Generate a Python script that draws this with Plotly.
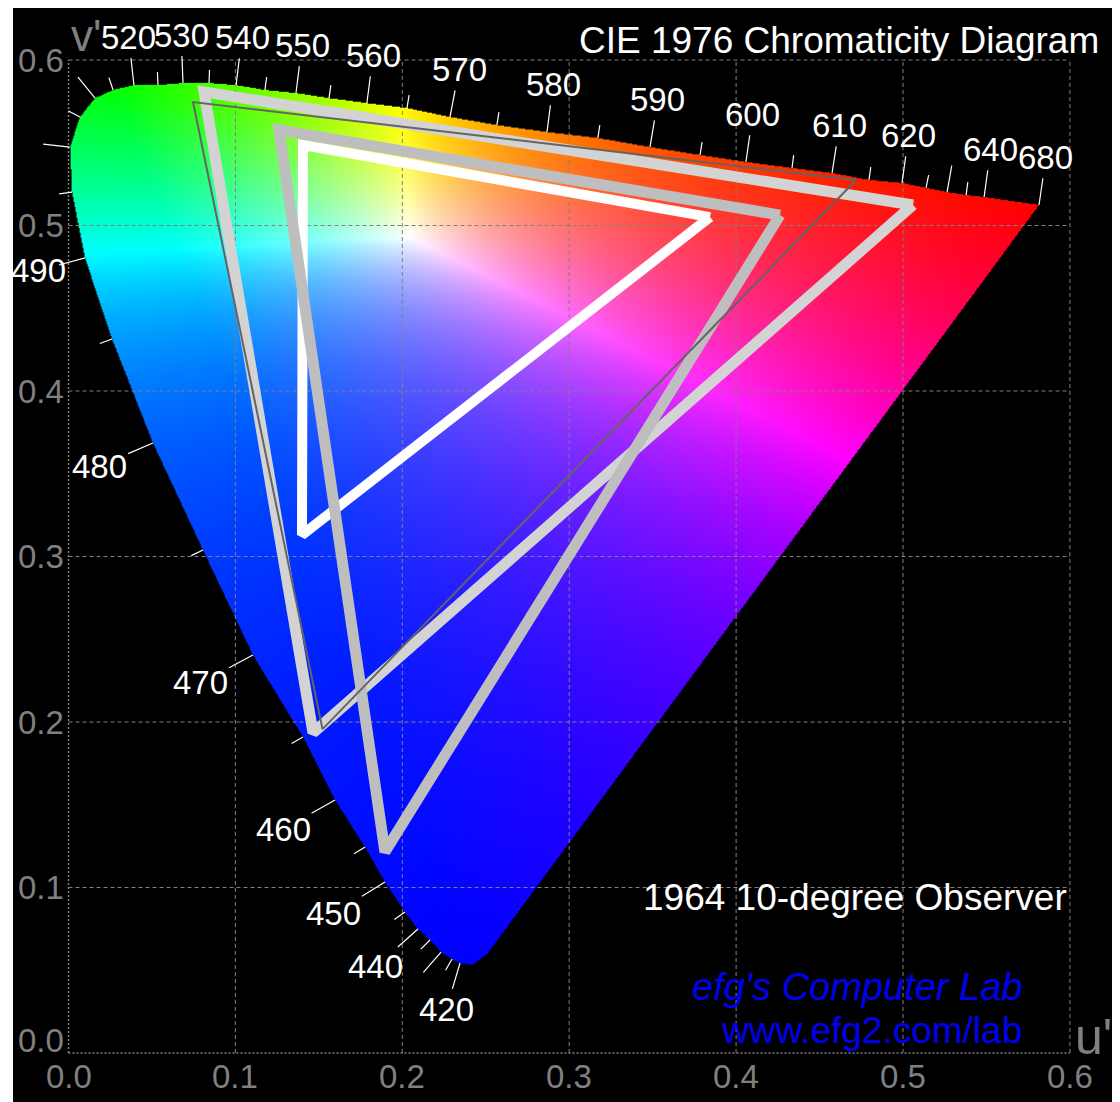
import numpy as np
import plotly.graph_objects as go
import zlib, struct, base64

# ---------------- data (CIE 1976 u', v') ----------------
wavelength_nm = [400, 410, 420, 425, 430, 435, 440, 445, 450, 455, 460, 465, 470, 475, 480, 485,
                 490, 495, 500, 505, 510, 515, 520, 525, 530, 535, 540, 545, 550, 555, 560, 565,
                 570, 575, 580, 585, 590, 595, 600, 605, 610, 615, 620, 625, 630, 635, 640, 680]
locus_u = [0.2508, 0.2418, 0.2346, 0.2298, 0.2232, 0.2166, 0.2094, 0.2016, 0.1896, 0.1777, 0.1597,
           0.1405, 0.1105, 0.0806, 0.0506, 0.0261, 0.0099, 0.0021, 0.0009, 0.0069, 0.0159, 0.0267,
           0.0392, 0.0536, 0.0686, 0.0842, 0.1004, 0.1177, 0.1363, 0.1561, 0.1788, 0.2028, 0.2286,
           0.2567, 0.2867, 0.3172, 0.3484, 0.3784, 0.4059, 0.4335, 0.4575, 0.4796, 0.4994, 0.5138,
           0.5264, 0.5378, 0.5486, 0.5815]
locus_v = [0.0598, 0.0532, 0.0544, 0.0568, 0.0610, 0.0683, 0.0749, 0.0852, 0.1033, 0.1245, 0.1529,
           0.1909, 0.2405, 0.3039, 0.3686, 0.4314, 0.4804, 0.5202, 0.5474, 0.5656, 0.5770, 0.5819,
           0.5849, 0.5849, 0.5861, 0.5861, 0.5849, 0.5819, 0.5801, 0.5770, 0.5740, 0.5710, 0.5656,
           0.5607, 0.5565, 0.5529, 0.5474, 0.5426, 0.5384, 0.5347, 0.5317, 0.5275, 0.5257, 0.5227,
           0.5202, 0.5184, 0.5172, 0.5124]
labeled_nm = [420, 440, 450, 460, 470, 480, 490, 520, 530, 540, 550, 560, 570, 580, 590,
              600, 610, 620, 640, 680]

# gamut triangles: (red, green, blue) vertices
white_tri_u = [0.3844, 0.1405, 0.1399]
white_tri_v = [0.5051, 0.5486, 0.3130]
silver_tri_u = [0.4263, 0.1261, 0.1896]
silver_tri_v = [0.5063, 0.5577, 0.1215]
light_tri_u = [0.5060, 0.0812, 0.1465]
light_tri_v = [0.5124, 0.5807, 0.1934]
ntsc_tri_u = [0.4719, 0.0746, 0.1522]
ntsc_tri_v = [0.5275, 0.5746, 0.1957]

axis_ticks = [0.0, 0.1, 0.2, 0.3, 0.4, 0.5, 0.6]
axis_tick_labels = ["0.0", "0.1", "0.2", "0.3", "0.4", "0.5", "0.6"]

# ---------------- geometry of the page (page body has an 8px margin) ----------------
OFF = 8
W_FIG, H_FIG = 1120 - OFF, 1102 - OFF
SX, SY = 1669.0, 1655.0                 # px per unit
X0PX, Y0PX = 68.5 - OFF, 1053.0 - OFF   # figure pixel of u'=0 / v'=0
xr = [-X0PX / SX, (W_FIG - X0PX) / SX]
yr = [(Y0PX - H_FIG) / SY, Y0PX / SY]

def px(xs):   # screen x -> paper
    return (xs - OFF) / W_FIG

def py(ys):   # screen y -> paper
    return 1 - (ys - OFF) / H_FIG

NARROW = "Liberation Sans Narrow, Arial Narrow, Liberation Sans, Arial, sans-serif"
REG = "Liberation Sans, Arial, sans-serif"
GRAY = "#808080"

# ---------------- colour fill of the locus ----------------
def uv_to_XYZ(u, v):
    u = np.asarray(u, float); v = np.asarray(v, float)
    d = 6 * u - 16 * v + 12
    x = 9 * u / d; y = 4 * v / d
    return np.stack([x / y, np.ones_like(x), (1 - x - y) / y])

prim_u, prim_v = [0.5815, 0.025, 0.236], [0.5124, 0.585, 0.054]
P = uv_to_XYZ(prim_u, prim_v)                 # columns = primaries
Wxyz = uv_to_XYZ([0.205], [0.493])[:, 0]
S = np.linalg.solve(P, Wxyz)
M = P * S
Minv = np.linalg.inv(M)

NW, NH = 1000, 950
u_lo, u_hi, v_lo, v_hi = 0.0, 0.6, 0.03, 0.6
uc = u_lo + (np.arange(NW) + 0.5) * (u_hi - u_lo) / NW
vc = v_hi - (np.arange(NH) + 0.5) * (v_hi - v_lo) / NH
U, V = np.meshgrid(uc, vc)

def inside(U, V, pu, pv):
    res = np.zeros(U.shape, bool)
    n = len(pu); j = n - 1
    for i in range(n):
        ui, vi, uj, vj = pu[i], pv[i], pu[j], pv[j]
        cond = (vi > V) != (vj > V)
        den = (vj - vi) if vj != vi else 1e-12
        xint = (uj - ui) * (V - vi) / den + ui
        res ^= cond & (U < xint)
        j = i
    return res

mask = inside(U, V, locus_u, locus_v)
XYZ = uv_to_XYZ(U.ravel(), V.ravel())
rgb = (Minv @ XYZ).T.reshape(NH, NW, 3)
rgb = np.clip(rgb, 0, None)
mx = rgb.max(axis=2, keepdims=True)
mx[mx == 0] = 1
rgb = rgb / mx
img = np.zeros((NH, NW, 4), np.uint8)
img[..., :3] = np.round(rgb * 255).astype(np.uint8)
img[..., 3] = np.where(mask, 255, 0).astype(np.uint8)

def to_png(a):
    h, w, _ = a.shape
    raw = b"".join(b"\x00" + a[r].tobytes() for r in range(h))
    def chunk(t, d):
        c = struct.pack(">I", len(d)) + t + d
        return c + struct.pack(">I", zlib.crc32(t + d) & 0xffffffff)
    return (b"\x89PNG\r\n\x1a\n" + chunk(b"IHDR", struct.pack(">IIBBBBB", w, h, 8, 6, 0, 0, 0))
            + chunk(b"IDAT", zlib.compress(raw, 6)) + chunk(b"IEND", b""))

png_uri = "data:image/png;base64," + base64.b64encode(to_png(img)).decode()

fig = go.Figure()

# ---------------- grid ----------------
gx, gy, ex, ey = [], [], [], []
for t in axis_ticks:
    tx, ty = (ex, ey) if t == 0 else (gx, gy)
    tx += [t, t, None]; ty += [axis_ticks[0], axis_ticks[-1], None]
    tx += [axis_ticks[0], axis_ticks[-1], None]; ty += [t, t, None]
fig.add_trace(go.Scatter(x=gx, y=gy, mode="lines", hoverinfo="skip",
                         line=dict(color=GRAY, width=1, dash="4px,3px")))
fig.add_trace(go.Scatter(x=ex, y=ey, mode="lines", hoverinfo="skip",
                         line=dict(color=GRAY, width=1.5, dash="2px,2px")))

# ---------------- wavelength ticks + labels ----------------
lu = np.array(locus_u); lv = np.array(locus_v)
tkx, tky = [], []
annotations = []
idx = {w: i for i, w in enumerate(wavelength_nm)}
for w in wavelength_nm:
    if w < 420:
        continue
    i = idx[w]
    a = max(i - 1, 0); b = min(i + 1, len(lu) - 1)
    tx_ = (lu[b] - lu[a]) * SX; ty_ = (lv[b] - lv[a]) * SY
    nx, ny = -ty_, tx_
    nn = np.hypot(nx, ny); nx /= nn; ny /= nn          # outward, screen-up positive
    L = 27 if w % 10 == 0 else 13
    eu = lu[i] + nx * L / SX; ev = lv[i] + ny * L / SY
    tkx += [lu[i], eu, None]; tky += [lv[i], ev, None]
    if w in labeled_nm:
        hw, hh = 17 if w == 490 else 25, 17
        t = min(hw / max(abs(nx), 1e-6), hh / max(abs(ny), 1e-6)) + 4
        annotations.append(dict(x=eu, y=ev, xref="x", yref="y", text=str(w), showarrow=False,
                                xshift=nx * t, yshift=ny * t, xanchor="center", yanchor="middle",
                                font=dict(family=NARROW, size=33, color="white")))
fig.add_trace(go.Scatter(x=tkx, y=tky, mode="lines", hoverinfo="skip",
                         line=dict(color="white", width=1.2)))

# ---------------- gamut triangles ----------------
def tri(u, v, color, width):
    fig.add_trace(go.Scatter(x=u + u[:1], y=v + v[:1], mode="lines", hoverinfo="skip",
                             line=dict(color=color, width=width)))

tri(white_tri_u, white_tri_v, "#ffffff", 10)
tri(light_tri_u, light_tri_v, "#d3d3d3", 11)
tri(silver_tri_u, silver_tri_v, "#bebebe", 11)
tri(ntsc_tri_u, ntsc_tri_v, "#646464", 2)

# ---------------- axis tick labels ----------------
for t, s in zip(axis_ticks, axis_tick_labels):
    annotations.append(dict(x=0, y=t, xref="x", yref="y", text=s, showarrow=False,
                            xanchor="right", yanchor="middle", xshift=-3,
                            yshift=13 if t == 0 else 0,
                            font=dict(family=NARROW, size=33, color=GRAY)))
    annotations.append(dict(x=t, y=0, xref="x", yref="y", text=s, showarrow=False,
                            xanchor="center", yanchor="top", yshift=-3,
                            font=dict(family=NARROW, size=33, color=GRAY)))

annotations += [
    dict(x=px(86), y=py(35), xref="paper", yref="paper", text="v'", showarrow=False,
         xanchor="center", yanchor="middle", font=dict(family=REG, size=44, color=GRAY)),
    dict(x=0.6, y=0, xref="x", yref="y", text="u'", showarrow=False, xanchor="left",
         yanchor="bottom", xshift=3, yshift=-14, font=dict(family=REG, size=50, color=GRAY)),
    dict(x=px(1101), y=py(40), xref="paper", yref="paper", showarrow=False,
         text="CIE 1976 Chromaticity Diagram", xanchor="right", yanchor="middle",
         font=dict(family=REG, size=37, color="white")),
    dict(x=px(1069), y=py(897), xref="paper", yref="paper", showarrow=False,
         text="1964 10-degree Observer", xanchor="right", yanchor="middle",
         font=dict(family=REG, size=37, color="white")),
    dict(x=px(1024), y=py(987), xref="paper", yref="paper", showarrow=False,
         text="<i>efg's Computer Lab</i>", xanchor="right", yanchor="middle",
         font=dict(family=REG, size=38, color="#0000f0")),
    dict(x=px(1024), y=py(1030), xref="paper", yref="paper", showarrow=False,
         text="www.efg2.com/lab", xanchor="right", yanchor="middle",
         font=dict(family=REG, size=37, color="#0000f0")),
]

shapes = [
    dict(type="rect", xref="paper", yref="paper", x0=0, x1=px(13), y0=0, y1=1,
         fillcolor="white", line=dict(width=0), layer="above"),
]

fig.update_layout(
    width=W_FIG, height=H_FIG,
    margin=dict(l=0, r=0, t=0, b=0, pad=0),
    paper_bgcolor="black", plot_bgcolor="black",
    showlegend=False,
    xaxis=dict(range=xr, visible=False, fixedrange=True),
    yaxis=dict(range=yr, visible=False, fixedrange=True),
    images=[dict(source=png_uri, xref="x", yref="y", x=u_lo, y=v_hi,
                 sizex=u_hi - u_lo, sizey=v_hi - v_lo, sizing="stretch",
                 xanchor="left", yanchor="top", layer="below")],
    annotations=annotations,
    shapes=shapes,
)

fig.write_html("out.html")
